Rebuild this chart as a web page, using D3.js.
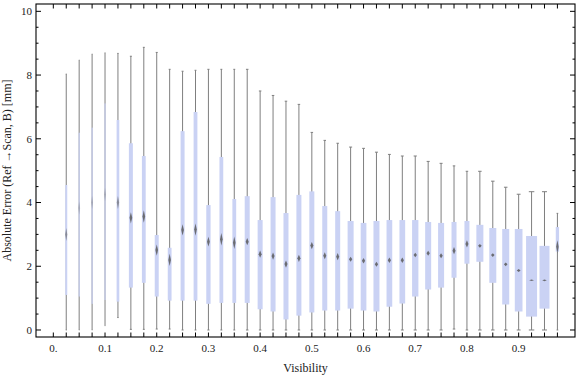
<!DOCTYPE html>
<html><head><meta charset="utf-8">
<script src="https://cdn.jsdelivr.net/npm/d3@7"></script>
<style>html,body{margin:0;padding:0;background:#fff;}svg{display:block;}</style>
</head><body>
<svg id="chart" width="576" height="377"></svg>
<script>
// ---- data ----
const visibility = [0.025,0.05,0.075,0.1,0.125,0.15,0.175,0.2,0.225,0.25,0.275,0.3,0.325,0.35,0.375,0.4,0.425,0.45,0.475,0.5,0.525,0.55,0.575,0.6,0.625,0.65,0.675,0.7,0.725,0.75,0.775,0.8,0.825,0.85,0.875,0.9,0.925,0.95,0.975];
const mins    = [0,0,0,0.135,0.39,0.02,0.02,0.03,0.03,0,0,0,0,0,0,0,0,0,0,0,0,0,0,0,0,0,0,0,0,0,0.03,0,0,0,0,0,0,0,0];
const q1s     = [1.1,1.05,0.82,0.94,0.89,1.33,1.48,1.05,0.92,0.92,0.92,0.82,0.85,0.85,0.85,0.65,0.58,0.33,0.45,0.55,0.61,0.61,0.67,0.61,0.58,0.73,0.83,1.05,1.27,1.33,1.64,2.08,2.14,1.48,0.8,0.58,0.42,0.67,2.46];
const medians = [3.0,3.83,4.0,4.25,4.0,3.52,3.56,2.51,2.2,3.14,3.15,2.77,2.85,2.74,2.77,2.38,2.32,2.07,2.25,2.65,2.33,2.3,2.22,2.17,2.06,2.19,2.19,2.35,2.41,2.33,2.49,2.7,2.64,2.35,2.06,1.87,1.56,1.56,2.61];
const q3s     = [4.55,6.19,6.35,7.11,6.59,5.86,5.46,2.98,2.58,6.24,6.84,3.92,5.43,4.11,4.2,3.45,4.17,3.67,4.24,4.35,3.89,3.73,3.42,3.36,3.42,3.45,3.45,3.45,3.39,3.36,3.39,3.42,3.3,3.2,3.17,3.17,2.95,2.64,3.23];
const maxs    = [8.03,8.47,8.66,8.70,8.68,8.59,8.87,8.71,8.18,8.12,8.15,8.18,8.18,8.18,8.18,7.5,7.36,7.18,7.08,6.2,5.95,5.86,5.74,5.7,5.58,5.51,5.46,5.46,5.29,5.23,5.15,4.98,4.98,4.67,4.48,4.26,4.34,4.34,3.66];
const counts  = [40,24,24,22,54,80,76,80,76,80,76,86,76,76,100,100,100,100,100,100,100,100,120,114,120,114,114,126,120,120,100,100,140,140,140,154,220,200,66];
const xTickValues = [0,0.1,0.2,0.3,0.4,0.5,0.6,0.7,0.8,0.9];
const xTickLabels = ["0.","0.1","0.2","0.3","0.4","0.5","0.6","0.7","0.8","0.9"];
const yTickValues = [0,2,4,6,8,10];
const xLabel = "Visibility";
const yLabel = "Absolute Error (Ref \u2192Scan, B) [mm]";

// ---- layout ----
const svg = d3.select("#chart");
const L = 36, R = 575, T = 4, B = 337;
const x = d3.scaleLinear().domain([-0.0335, 1.0090]).range([L, R]);
const y = d3.scaleLinear().domain([-0.22, 10.23]).range([B, T]);
const wScale = d3.scaleLinear().domain([0, 220]).range([0, 11]);

const boxColor = "#cad2f4";
const whiskColor = "#7f7f7f";
const serif = "'Liberation Serif','DejaVu Serif',Times,serif";

const data = visibility.map((v,i)=>({v, min:mins[i], q1:q1s[i], med:medians[i], q3:q3s[i], max:maxs[i], w:wScale(counts[i])}));

const g = svg.append("g");
// whiskers
g.selectAll("line.wh").data(data).join("line")
  .attr("x1", d=>x(d.v)).attr("x2", d=>x(d.v))
  .attr("y1", d=>y(d.min)).attr("y2", d=>y(d.max))
  .attr("stroke", whiskColor).attr("stroke-width", 1);
// caps
["min","max"].forEach(k=>{
  g.selectAll("line.cap"+k).data(data).join("line")
    .attr("x1", d=>x(d.v)-d.w*0.25).attr("x2", d=>x(d.v)+d.w*0.25)
    .attr("y1", d=>y(d[k])).attr("y2", d=>y(d[k]))
    .attr("stroke", whiskColor).attr("stroke-width", 1);
});
// boxes
g.selectAll("rect.box").data(data).join("rect")
  .attr("x", d=>x(d.v)-d.w/2).attr("width", d=>d.w)
  .attr("y", d=>y(d.q3)).attr("height", d=>y(d.q1)-y(d.q3))
  .attr("fill", boxColor);
// median markers
g.selectAll("path.med").data(data).join("path")
  .attr("d", d=>{
    const cx = x(d.v), cy = y(d.med);
    const hw = (1.5 + 0.3*d.w)/2;
    const hh = Math.max(1, Math.min(13, 180/(d.w*d.w)))/2;
    return `M${cx},${cy-hh}L${cx+hw},${cy}L${cx},${cy+hh}L${cx-hw},${cy}Z`;
  })
  .attr("fill", "#5a5a5a")
  .attr("opacity", d=> d.w < 1.6 ? 0.3 : (d.w < 3 ? 0.6 : 0.85));

// frame
svg.append("rect").attr("x", L).attr("y", T).attr("width", R-L).attr("height", B-T)
  .attr("fill","none").attr("stroke","#000").attr("stroke-width",1.1);

// ticks
const xMinor = [0].concat(visibility);
const tk = svg.append("g").attr("stroke","#000").attr("stroke-width",1);
xMinor.forEach(v=>{
  tk.append("line").attr("x1",x(v)).attr("x2",x(v)).attr("y1",B).attr("y2",B-4.5);
  tk.append("line").attr("x1",x(v)).attr("x2",x(v)).attr("y1",T).attr("y2",T+4.5);
});
d3.range(0, 10.01, 0.5).forEach(v=>{
  const len = (v % 2 === 0) ? 5 : 2.5;
  tk.append("line").attr("x1",L).attr("x2",L+len).attr("y1",y(v)).attr("y2",y(v));
  tk.append("line").attr("x1",R).attr("x2",R-len).attr("y1",y(v)).attr("y2",y(v));
});

// tick labels
const lab = svg.append("g").attr("font-family", serif).attr("font-size", 11).attr("fill","#222");
xTickValues.forEach((v,i)=>{
  lab.append("text").attr("x", x(v)).attr("y", 352).attr("text-anchor","middle").text(xTickLabels[i]);
});
yTickValues.forEach(v=>{
  lab.append("text").attr("x", 32).attr("y", y(v)).attr("dy","0.35em").attr("text-anchor","end").text(String(v));
});

// axis labels
svg.append("text").attr("x", (L+R)/2).attr("y", 372).attr("text-anchor","middle")
  .attr("font-family", serif).attr("font-size", 12).attr("fill","#222").text(xLabel);
svg.append("text").attr("transform", `translate(11,${(T+B)/2}) rotate(-90)`).attr("text-anchor","middle")
  .attr("font-family", serif).attr("font-size", 12).attr("fill","#222").text(yLabel);
</script>
</body></html>
